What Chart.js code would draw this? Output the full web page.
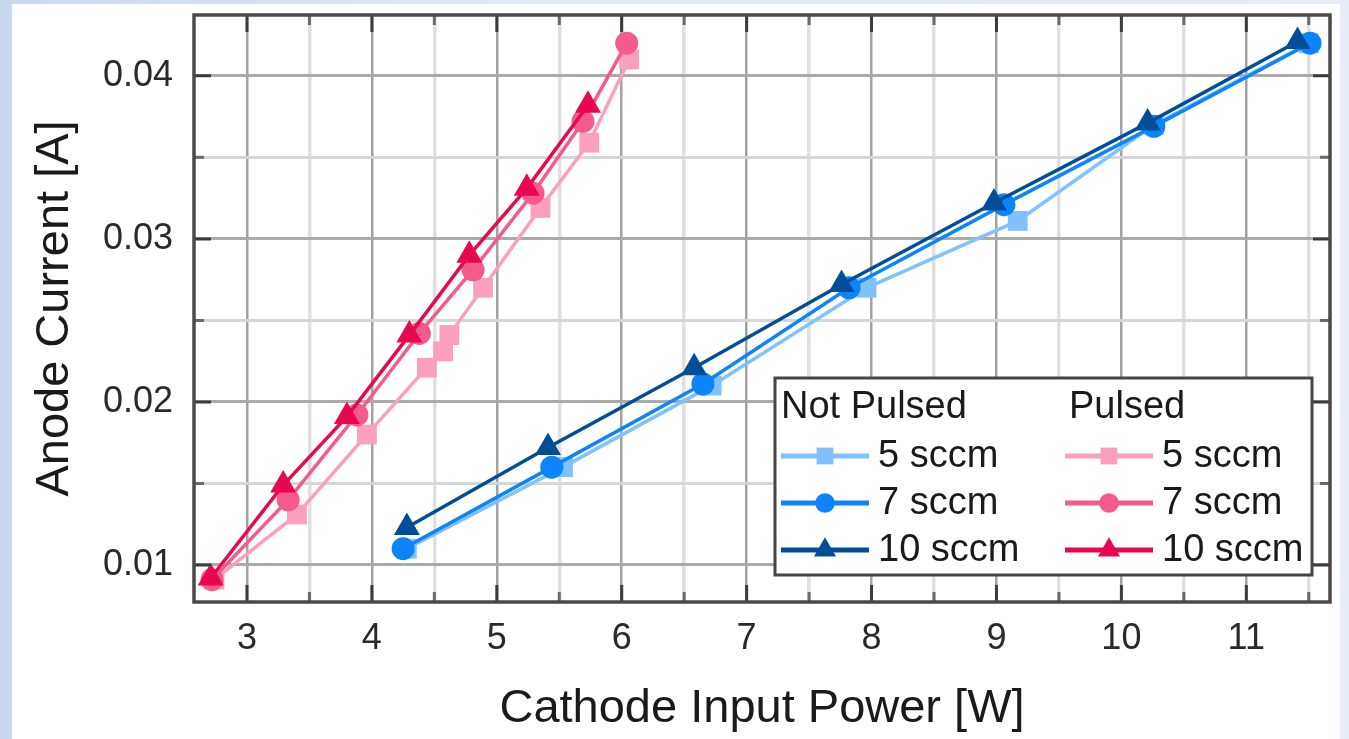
<!DOCTYPE html>
<html>
<head>
<meta charset="utf-8">
<script src="https://cdn.jsdelivr.net/npm/chart.js@4.4.1/dist/chart.umd.min.js"></script>
<style>
  html, body { margin: 0; padding: 0; }
  body {
    width: 1349px; height: 739px; overflow: hidden; position: relative;
    background: linear-gradient(90deg, #cad8ee 0%, #e2eaf6 40%, #e6edf8 100%);
  }
  #panel { position: absolute; left: 12px; top: 4px; width: 1328px; height: 735px; background: #fff; }
  #chart { position: absolute; left: 0; top: 0; }
</style>
</head>
<body>
<div id="panel"></div>
<canvas id="chart" width="1349" height="739"></canvas>
<script>
// Not pulsed (power W, current A)
const npPower5 = [4.28, 5.53, 6.72, 7.96, 9.17, 10.26, 11.50];
const npCurrent5 = [0.0110, 0.0160, 0.0210, 0.0270, 0.0311, 0.0370, 0.0420];
const npPower7 = [4.25, 5.44, 6.65, 7.82, 9.06, 10.26, 11.51];
const npCurrent7 = [0.0110, 0.0160, 0.0211, 0.0270, 0.0321, 0.0369, 0.0420];
const npPower10 = [4.28, 5.41, 6.58, 7.76, 8.98, 10.21, 11.41];
const npCurrent10 = [0.0123, 0.0172, 0.0221, 0.0272, 0.0322, 0.0371, 0.0421];

// Pulsed
const pPower5 = [2.74, 3.40, 3.96, 4.44, 4.57, 4.62, 4.89, 5.35, 5.74, 6.06];
const pCurrent5 = [0.0091, 0.0131, 0.0180, 0.0221, 0.0231, 0.0241, 0.0270, 0.0319, 0.0359, 0.0410];
const pPower7 = [2.72, 3.33, 3.88, 4.38, 4.81, 5.29, 5.69, 6.04];
const pCurrent7 = [0.0091, 0.0140, 0.0192, 0.0242, 0.0281, 0.0328, 0.0372, 0.0420];
const pPower10 = [2.71, 3.29, 3.80, 4.30, 4.78, 5.24, 5.73];
const pCurrent10 = [0.0092, 0.0149, 0.0191, 0.0241, 0.0290, 0.0331, 0.0382];

const seriesLabels = ['5 sccm', '7 sccm', '10 sccm'];
const groupLabels = ['Not Pulsed', 'Pulsed'];

const FONT = "'Liberation Sans', Arial, sans-serif";

const zip = (xs, ys) => xs.map((x, i) => ({ x: x, y: ys[i] }));

const makeSet = (label, group, xs, ys, color, style, radius, order) => ({
  label: label,
  group: group,
  data: zip(xs, ys),
  showLine: true,
  borderColor: color,
  backgroundColor: color,
  borderWidth: 3.5,
  pointStyle: style,
  pointRadius: radius,
  pointBorderWidth: 0,
  pointBackgroundColor: color,
  order: order
});

const datasets = [
  makeSet(seriesLabels[0], 0, npPower5, npCurrent5, 'rgb(128,194,255)', 'rect', 14, 3),
  makeSet(seriesLabels[1], 0, npPower7, npCurrent7, 'rgb(14,132,250)', 'circle', 11.5, 2),
  makeSet(seriesLabels[2], 0, npPower10, npCurrent10, 'rgb(0,78,152)', 'triangle', 15, 1),
  makeSet(seriesLabels[0], 1, pPower5, pCurrent5, 'rgb(250,160,190)', 'rect', 14, 3),
  makeSet(seriesLabels[1], 1, pPower7, pCurrent7, 'rgb(244,90,140)', 'circle', 11.5, 2),
  makeSet(seriesLabels[2], 1, pPower10, pCurrent10, 'rgb(232,8,80)', 'triangle', 15, 1)
];

const isWhole = (v, step) => Math.abs(v / step - Math.round(v / step)) < 1e-6;

function marker(ctx, style, x, y, r) {
  ctx.beginPath();
  if (style === 'rect') {
    const s = Math.SQRT1_2 * r;
    ctx.rect(x - s, y - s, 2 * s, 2 * s);
  } else if (style === 'circle') {
    ctx.arc(x, y, r, 0, Math.PI * 2);
  } else {
    for (let k = 0; k < 3; k++) {
      const a = k * 2 * Math.PI / 3;
      ctx.lineTo(x + Math.sin(a) * r, y - Math.cos(a) * r);
    }
    ctx.closePath();
  }
  ctx.fill();
}

// Ticks on the inside of the frame, and the frame itself
const framePlugin = {
  id: 'frame',
  afterDraw(chart) {
    const { ctx, chartArea: a, scales } = chart;
    ctx.save();
    scales.x.ticks.forEach(t => {
      const px = scales.x.getPixelForValue(t.value);
      const major = isWhole(t.value, 1);
      const len = major ? 17 : 10;
      ctx.strokeStyle = major ? '#3c3c3c' : '#6a6a6a';
      ctx.lineWidth = 3;
      ctx.beginPath();
      ctx.moveTo(px, a.bottom); ctx.lineTo(px, a.bottom - len);
      ctx.moveTo(px, a.top); ctx.lineTo(px, a.top + len);
      ctx.stroke();
    });
    scales.y.ticks.forEach(t => {
      const py = scales.y.getPixelForValue(t.value);
      const major = isWhole(t.value, 0.01);
      const len = major ? 17 : 10;
      ctx.strokeStyle = major ? '#3c3c3c' : '#6a6a6a';
      ctx.lineWidth = 3;
      ctx.beginPath();
      ctx.moveTo(a.left, py); ctx.lineTo(a.left + len, py);
      ctx.moveTo(a.right, py); ctx.lineTo(a.right - len, py);
      ctx.stroke();
    });
    ctx.strokeStyle = '#4a4a4a';
    ctx.lineWidth = 3.5;
    ctx.strokeRect(a.left, a.top, a.right - a.left, a.bottom - a.top);
    ctx.restore();
  }
};

// Two-column legend with group headers
const legendPlugin = {
  id: 'groupLegend',
  afterDraw(chart) {
    const { ctx, chartArea: a } = chart;
    const w = 537, h = 197;
    const left = a.right - 18 - w, top = a.bottom - 27 - h;
    ctx.save();
    ctx.fillStyle = '#fff';
    ctx.fillRect(left, top, w, h);
    ctx.strokeStyle = '#454545';
    ctx.lineWidth = 3;
    ctx.strokeRect(left, top, w, h);
    ctx.font = '38px ' + FONT;
    ctx.textBaseline = 'middle';
    ctx.fillStyle = '#1a1a1a';
    const colX = [left + 6, left + 290];
    groupLabels.forEach((g, gi) => ctx.fillText(g, colX[gi] + (gi ? 4 : 0), top + 30));
    chart.data.datasets.forEach(ds => {
      const row = seriesLabels.indexOf(ds.label);
      const x0 = colX[ds.group];
      const y = top + 78 + row * 47;
      ctx.strokeStyle = ds.borderColor;
      ctx.lineWidth = 5;
      ctx.beginPath();
      ctx.moveTo(x0, y); ctx.lineTo(x0 + 88, y);
      ctx.stroke();
      ctx.fillStyle = ds.pointBackgroundColor;
      marker(ctx, ds.pointStyle, x0 + 44, y, ds.pointRadius * 0.85);
      ctx.fillStyle = '#1a1a1a';
      ctx.fillText(ds.label, x0 + 97, y + 1);
    });
    ctx.restore();
  }
};

new Chart(document.getElementById('chart'), {
  type: 'scatter',
  data: { datasets: datasets },
  options: {
    responsive: false,
    animation: false,
    layout: { padding: { left: 0, right: 19, top: 14, bottom: 0 } },
    plugins: { legend: { display: false }, tooltip: { enabled: false } },
    scales: {
      x: {
        type: 'linear',
        min: 2.576,
        max: 11.67,
        afterFit: s => { s.height = 137; s.paddingLeft = 0; s.paddingRight = 0; },
        border: { display: false },
        grid: {
          drawTicks: false,
          color: c => isWhole(c.tick.value, 1) ? '#a2a2a2' : '#e0e0e0',
          lineWidth: c => isWhole(c.tick.value, 1) ? 2.5 : 3.5
        },
        ticks: {
          stepSize: 0.5,
          includeBounds: false,
          autoSkip: false,
          maxRotation: 0,
          padding: 15,
          color: '#2a2a2a',
          font: { family: FONT, size: 36 },
          callback: v => isWhole(v, 1) ? String(Math.round(v)) : ''
        },
        title: {
          display: true,
          text: 'Cathode Input Power [W]',
          color: '#1a1a1a',
          font: { family: FONT, size: 47, lineHeight: 1 },
          padding: { top: 0, bottom: 6 }
        }
      },
      y: {
        type: 'linear',
        min: 0.00773,
        max: 0.04373,
        afterFit: s => { s.width = 194; s.paddingTop = 0; s.paddingBottom = 0; },
        border: { display: false },
        grid: {
          drawTicks: false,
          color: c => isWhole(c.tick.value, 0.01) ? '#ababab' : '#d6d6d6',
          lineWidth: 3
        },
        ticks: {
          stepSize: 0.005,
          includeBounds: false,
          autoSkip: false,
          padding: 21,
          color: '#2a2a2a',
          font: { family: FONT, size: 36 },
          callback: v => isWhole(v, 0.01) ? v.toFixed(2) : ''
        },
        title: {
          display: true,
          text: 'Anode Current [A]',
          color: '#1a1a1a',
          font: { family: FONT, size: 47, lineHeight: 1 },
          padding: { top: 32, bottom: 0 }
        }
      }
    }
  },
  plugins: [framePlugin, legendPlugin]
});
</script>
</body>
</html>
